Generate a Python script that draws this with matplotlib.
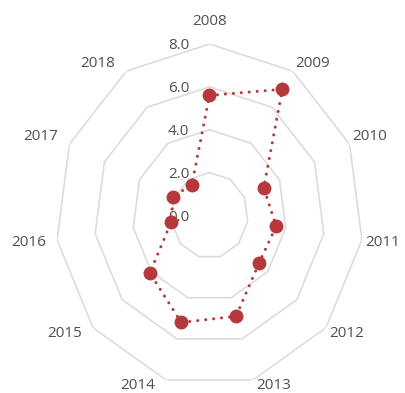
import numpy as np
import matplotlib.pyplot as plt
from matplotlib.transforms import offset_copy

plt.rcParams['font.family'] = ['Open Sans', 'DejaVu Sans']

# 年份与数值
years = ['2008', '2009', '2010', '2011', '2012', '2013',
         '2014', '2015', '2016', '2017', '2018']
values = [5.6, 7.0, 3.1, 3.5, 3.4, 4.9, 5.2, 4.1, 2.0, 2.1, 1.7]
rings = [2.0, 4.0, 6.0, 8.0]
r_labels = [0.0, 2.0, 4.0, 6.0, 8.0]

line_color = '#b5383c'
grid_color = '#dcdcdc'
text_color = '#505050'

n = len(years)
angles = np.linspace(0, 2 * np.pi, n, endpoint=False)
closed = np.append(angles, angles[0])

fig = plt.figure(figsize=(4.05, 3.93), dpi=100)
ax = fig.add_axes([0.137, 0.0153, 0.7605, 0.8728], projection='polar')
ax.set_aspect('auto')
ax.set_theta_zero_location('N')
ax.set_theta_direction(-1)
ax.set_ylim(0, 8)
ax.grid(False)
ax.spines['polar'].set_visible(False)
ax.set_yticks([])
ax.set_xticks([])

# 多边形网格
for r in rings:
    ax.plot(closed, [r] * (n + 1), color=grid_color, lw=1.2, zorder=1)

# 径向刻度标签
trans = offset_copy(ax.transData, fig=fig, x=-20, y=-2, units='dots')
for r in r_labels:
    ax.text(0, r, f'{r:.1f}', transform=trans, ha='right', va='center',
            fontsize=11, color=text_color, zorder=2)

# 数据折线
vals = values + values[:1]
ax.plot(closed, vals, color=line_color, lw=2.2, ls=(0, (0.01, 2.6)),
        dash_capstyle='round', zorder=3)
ax.plot(angles, values, 'o', color=line_color, ms=9, zorder=4)

# 年份标签，按方向对齐
for a, name in zip(angles, years):
    s, c = np.sin(a), np.cos(a)
    if s > 0.1:
        ha, dx = 'left', 3
    elif s < -0.1:
        ha, dx = 'right', -11
    else:
        ha, dx = 'center', 0
    if c > 0.3:
        va, dy = 'bottom', 0
    elif c < -0.3:
        va, dy = 'top', 2
    else:
        va, dy = 'center', -3
    if ha == 'center':
        dy = 15
    ax.annotate(name, xy=(a, rings[-1]), xytext=(dx, dy),
                textcoords='offset pixels', ha=ha, va=va,
                fontsize=11, color=text_color, annotation_clip=False)

fig.savefig('out.png', dpi=100)
